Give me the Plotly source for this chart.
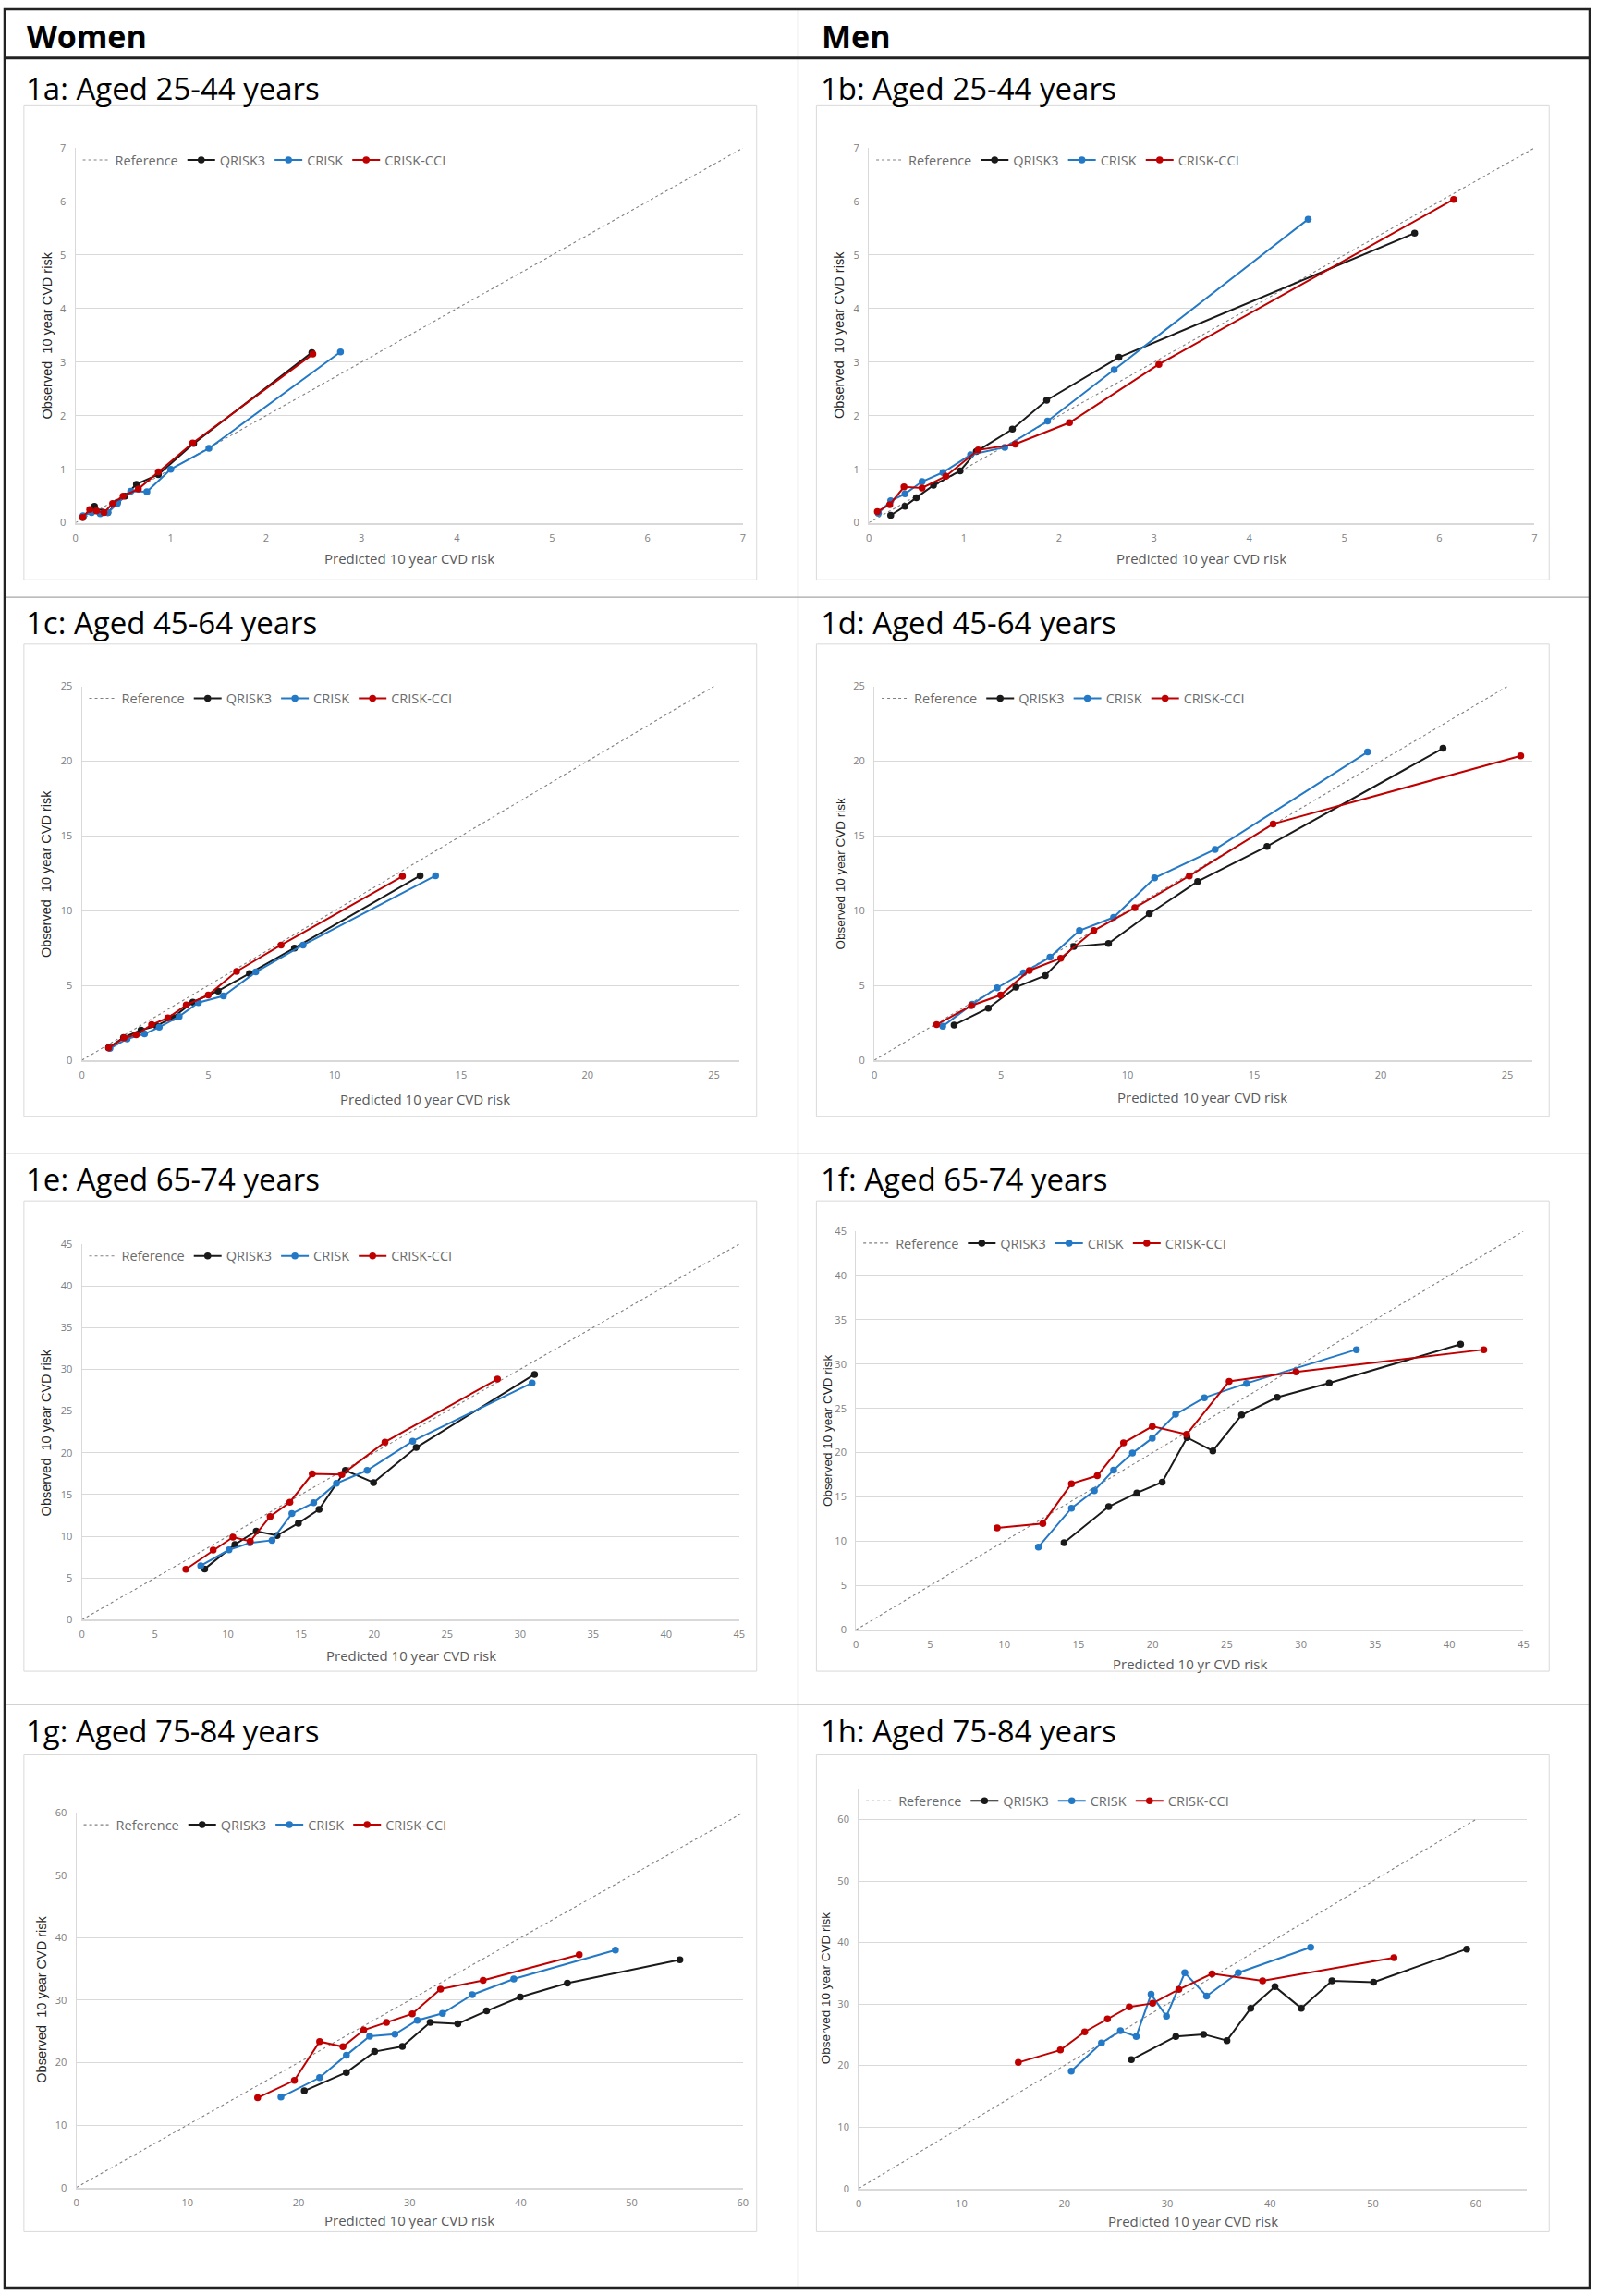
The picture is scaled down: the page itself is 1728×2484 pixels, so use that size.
import plotly.graph_objects as go

W, H = 1728, 2484

# ------------------------------------------------------------------ data
# Predicted vs observed 10-year CVD risk (%), by decile
# 1a: Women aged 25-44
a_q_pred = [0.08, 0.20, 0.28, 0.34, 0.44, 0.52, 0.64, 0.87, 1.24, 2.48]
a_q_obs = [0.10, 0.31, 0.20, 0.19, 0.38, 0.50, 0.72, 0.90, 1.48, 3.18]
a_c_pred = [0.08, 0.17, 0.26, 0.34, 0.44, 0.58, 0.75, 1.00, 1.40, 2.78]
a_c_obs = [0.13, 0.19, 0.17, 0.19, 0.36, 0.59, 0.58, 1.00, 1.39, 3.19]
a_cc_pred = [0.075, 0.15, 0.22, 0.30, 0.39, 0.50, 0.66, 0.87, 1.23, 2.49]
a_cc_obs = [0.10, 0.25, 0.22, 0.19, 0.36, 0.50, 0.63, 0.95, 1.49, 3.15]

# 1b: Men aged 25-44
b_q_pred = [0.23, 0.38, 0.50, 0.68, 0.96, 1.13, 1.51, 1.87, 2.63, 5.74]
b_q_obs = [0.14, 0.31, 0.47, 0.70, 0.97, 1.33, 1.75, 2.29, 3.09, 5.41]
b_c_pred = [0.10, 0.23, 0.38, 0.56, 0.78, 1.07, 1.43, 1.88, 2.58, 4.62]
b_c_obs = [0.18, 0.41, 0.54, 0.77, 0.94, 1.27, 1.41, 1.90, 2.86, 5.67]
b_cc_pred = [0.09, 0.22, 0.37, 0.56, 0.81, 1.15, 1.54, 2.11, 3.05, 6.15]
b_cc_obs = [0.21, 0.34, 0.67, 0.65, 0.87, 1.36, 1.47, 1.87, 2.96, 6.04]

# 1c: Women aged 45-64
c_q_pred = [1.06, 1.65, 2.34, 2.95, 3.61, 4.39, 5.39, 6.63, 8.41, 13.38]
c_q_obs = [0.84, 1.52, 2.01, 2.30, 2.87, 3.89, 4.63, 5.80, 7.50, 12.34]
c_c_pred = [1.11, 1.79, 2.48, 3.06, 3.85, 4.61, 5.60, 6.88, 8.75, 13.99]
c_c_obs = [0.79, 1.43, 1.76, 2.21, 2.93, 3.85, 4.30, 5.90, 7.70, 12.34]
c_cc_pred = [1.06, 1.67, 2.15, 2.76, 3.40, 4.13, 5.00, 6.12, 7.88, 12.68]
c_cc_obs = [0.82, 1.50, 1.70, 2.38, 2.83, 3.69, 4.36, 5.94, 7.70, 12.30]

# 1d: Men aged 45-64
d_q_pred = [3.15, 4.50, 5.59, 6.75, 7.88, 9.25, 10.86, 12.77, 15.51, 22.46]
d_q_obs = [2.36, 3.48, 4.88, 5.66, 7.60, 7.81, 9.80, 11.95, 14.30, 20.86]
d_c_pred = [2.70, 3.87, 4.85, 5.89, 6.94, 8.10, 9.45, 11.07, 13.46, 19.48]
d_c_obs = [2.27, 3.75, 4.84, 5.84, 6.89, 8.67, 9.55, 12.19, 14.10, 20.61]
d_cc_pred = [2.46, 3.83, 4.99, 6.12, 7.36, 8.67, 10.29, 12.44, 15.75, 25.53]
d_cc_obs = [2.38, 3.65, 4.36, 6.00, 6.82, 8.67, 10.20, 12.32, 15.80, 20.35]

# 1e: Women aged 65-74
e_q_pred = [8.41, 10.48, 11.94, 13.36, 14.82, 16.24, 18.04, 19.97, 22.89, 30.99]
e_q_obs = [6.09, 9.02, 10.62, 10.09, 11.57, 13.21, 17.89, 16.44, 20.63, 29.39]
e_c_pred = [8.14, 10.07, 11.50, 13.02, 14.38, 15.87, 17.43, 19.53, 22.65, 30.82]
e_c_obs = [6.47, 8.37, 9.20, 9.52, 12.71, 14.01, 16.33, 17.89, 21.39, 28.36]
e_cc_pred = [7.12, 8.99, 10.34, 11.53, 12.89, 14.24, 15.77, 17.80, 20.75, 28.45]
e_cc_obs = [6.05, 8.34, 9.90, 9.40, 12.37, 14.08, 17.47, 17.40, 21.28, 28.82]

# 1f: Men aged 65-74
f_q_pred = [14.03, 17.04, 18.94, 20.65, 22.32, 24.06, 26.00, 28.40, 31.91, 40.76]
f_q_obs = [9.85, 13.91, 15.46, 16.68, 21.71, 20.20, 24.26, 26.24, 27.86, 32.24]
f_c_pred = [12.30, 14.53, 16.07, 17.37, 18.64, 19.98, 21.55, 23.49, 26.33, 33.74]
f_c_obs = [9.35, 13.73, 15.71, 18.04, 19.95, 21.64, 24.33, 26.20, 27.82, 31.63]
f_cc_pred = [9.52, 12.60, 14.53, 16.27, 18.04, 19.98, 22.29, 25.16, 29.67, 42.33]
f_cc_obs = [11.50, 12.01, 16.50, 17.40, 21.10, 22.97, 22.07, 28.04, 29.12, 31.63]

# 1g: Women aged 75-84
g_q_pred = [20.52, 24.31, 26.85, 29.35, 31.85, 34.34, 36.93, 39.96, 44.20, 54.33]
g_q_obs = [15.47, 18.42, 21.76, 22.59, 26.43, 26.21, 28.27, 30.50, 32.72, 36.45]
g_c_pred = [18.42, 21.90, 24.31, 26.40, 28.68, 30.69, 32.96, 35.64, 39.38, 48.53]
g_c_obs = [14.47, 17.59, 21.20, 24.21, 24.54, 26.77, 27.88, 30.88, 33.39, 38.01]
g_cc_pred = [16.32, 19.63, 21.90, 24.00, 25.87, 27.92, 30.24, 32.78, 36.62, 45.27]
g_cc_obs = [14.36, 17.14, 23.37, 22.54, 25.21, 26.43, 27.82, 31.77, 33.17, 37.28]

# 1h: Men aged 75-84
h_q_pred = [26.51, 30.84, 33.54, 35.81, 38.12, 40.48, 43.04, 46.02, 50.07, 59.13]
h_q_obs = [20.94, 24.73, 25.07, 24.05, 29.32, 32.82, 29.32, 33.79, 33.56, 38.94]
h_c_pred = [20.67, 23.61, 25.45, 26.99, 28.43, 29.93, 31.71, 33.83, 36.92, 43.95]
h_c_obs = [19.07, 23.66, 25.64, 24.73, 31.58, 28.01, 35.09, 31.30, 35.09, 39.22]
h_cc_pred = [15.52, 19.61, 21.98, 24.19, 26.31, 28.58, 31.13, 34.36, 39.28, 52.05]
h_cc_obs = [20.49, 22.52, 25.47, 27.56, 29.54, 30.11, 32.37, 34.92, 33.79, 37.52]

panel_titles = ["1a: Aged 25-44 years", "1b: Aged 25-44 years",
                "1c: Aged 45-64 years", "1d: Aged 45-64 years",
                "1e: Aged 65-74 years", "1f: Aged 65-74 years",
                "1g: Aged 75-84 years", "1h: Aged 75-84 years"]
column_headers = ["Women", "Men"]
series_names = ["Reference", "QRISK3", "CRISK", "CRISK-CCI"]
x_titles = ["Predicted 10 year CVD risk"] * 5 + ["Predicted 10 yr CVD risk"] + ["Predicted 10 year CVD risk"] * 2
y_titles = ["Observed\u00a0 10 year CVD risk", "Observed\u00a0 10 year CVD risk",
            "Observed\u00a0 10 year CVD risk", "Observed 10 year CVD risk",
            "Observed\u00a0 10 year CVD risk", "Observed 10 year CVD risk",
            "Observed\u00a0 10 year CVD risk", "Observed 10 year CVD risk"]
x_max = [7, 7, 26, 26, 45, 45, 60, 65]
y_max = [7, 7, 25, 25, 45, 45, 60, 65]
reference_max = [7, 7, 25, 25, 45, 45, 60, 60]
tick_step = [1, 1, 5, 5, 5, 5, 10, 10]

series_data = [
    [(a_q_pred, a_q_obs), (a_c_pred, a_c_obs), (a_cc_pred, a_cc_obs)],
    [(b_q_pred, b_q_obs), (b_c_pred, b_c_obs), (b_cc_pred, b_cc_obs)],
    [(c_q_pred, c_q_obs), (c_c_pred, c_c_obs), (c_cc_pred, c_cc_obs)],
    [(d_q_pred, d_q_obs), (d_c_pred, d_c_obs), (d_cc_pred, d_cc_obs)],
    [(e_q_pred, e_q_obs), (e_c_pred, e_c_obs), (e_cc_pred, e_cc_obs)],
    [(f_q_pred, f_q_obs), (f_c_pred, f_c_obs), (f_cc_pred, f_cc_obs)],
    [(g_q_pred, g_q_obs), (g_c_pred, g_c_obs), (g_cc_pred, g_cc_obs)],
    [(h_q_pred, h_q_obs), (h_c_pred, h_c_obs), (h_cc_pred, h_cc_obs)],
]

# ------------------------------------------------------------------ layout (pixels)
plot_px = [(79, 805, 153, 561), (942, 1666, 153, 561),
           (86, 801, 739, 1146), (948, 1664, 739, 1146),
           (86, 801, 1346, 1755), (928, 1654, 1332, 1766),
           (80, 805, 1965, 2373), (931, 1658, 1939, 2374)]
ytitle_px = [(48, 357), (910, 357), (48, 943), (911, 943),
             (47, 1551), (897, 1549), (42, 2168), (896, 2156)]
xtitle_px = [(442, 600), (1304, 600), (459, 1188), (1305, 1186),
             (444, 1794), (1291, 1803), (442, 2409), (1295, 2410)]
ytitle_size = [14.5, 14.5, 14.5, 13.5, 14.5, 13.5, 14.5, 13.5]
row_box_y = [(107, 623), (693, 1207), (1299, 1811), (1902, 2421)]
col_box_x = [(23, 820), (885, 1682)]
title_y = [88, 670, 1275, 1876]
title_x = [23, 888]
row_lines = [642, 1248, 1847]

colors = ["#1a1a1a", "#2379c6", "#c00000"]
FONT = "Open Sans, Lato, sans-serif"


def px(x):
    return x / W


def py(y):
    return 1 - y / H


fig = go.Figure()
layout = dict(width=W, height=H, margin=dict(l=0, r=0, t=0, b=0),
              paper_bgcolor="white", plot_bgcolor="white",
              font=dict(family=FONT), showlegend=True,
              annotations=[], shapes=[])

for i in range(8):
    n = i + 1
    sx = "" if n == 1 else str(n)
    xref, yref = "x" + sx, "y" + sx
    lg = "legend" + sx
    x0, x1, y0, y1 = plot_px[i]

    fig.add_trace(go.Scatter(x=[0, reference_max[i]], y=[0, reference_max[i]],
                             mode="lines", name=series_names[0],
                             line=dict(color="#808080", width=1.1, dash="dot"),
                             xaxis=xref, yaxis=yref, legend=lg, hoverinfo="skip"))
    for k, (xs, ys) in enumerate(series_data[i]):
        fig.add_trace(go.Scatter(x=xs, y=ys, mode="lines+markers",
                                 name=series_names[k + 1],
                                 line=dict(color=colors[k], width=2),
                                 marker=dict(color=colors[k], size=7.5),
                                 xaxis=xref, yaxis=yref, legend=lg))

    tickfont = dict(family=FONT, size=11, color="#808080")
    layout["xaxis" + sx] = dict(domain=[px(x0), px(x1)], anchor=yref,
                                range=[0, x_max[i]], dtick=tick_step[i], tick0=0,
                                showgrid=False, zeroline=False, showline=True,
                                linecolor="#d9d9d9", linewidth=1.5, ticks="",
                                tickfont=tickfont, fixedrange=True,
                                ticklabelstandoff=5)
    layout["yaxis" + sx] = dict(domain=[py(y1), py(y0)], anchor=xref,
                                range=[0, y_max[i]], dtick=tick_step[i], tick0=0,
                                showgrid=True, gridcolor="#d9d9d9", gridwidth=1,
                                zeroline=False, showline=True, linecolor="#d9d9d9",
                                linewidth=1, ticks="", tickfont=tickfont,
                                fixedrange=True, ticklabelstandoff=7)
    layout[lg] = dict(orientation="h", x=px(x0 + 3), y=py(y0 - 3),
                      xanchor="left", yanchor="top", bgcolor="rgba(0,0,0,0)",
                      font=dict(family=FONT, size=14.5, color="#6b6b6b"),
                      itemwidth=30, tracegroupgap=0, itemclick=False,
                      itemdoubleclick=False)

    # axis titles
    ax_, ay_ = xtitle_px[i]
    layout["annotations"].append(dict(
        x=px(ax_), y=py(ay_), xref="paper", yref="paper", text=x_titles[i],
        showarrow=False, xanchor="center", yanchor="middle",
        font=dict(family=FONT, size=15, color="#595959")))
    tx, ty = ytitle_px[i]
    layout["annotations"].append(dict(
        x=px(tx), y=py(ty), xref="paper", yref="paper", text=y_titles[i],
        showarrow=False, xanchor="center", yanchor="middle", textangle=-90,
        font=dict(family="Liberation Sans, Arial, sans-serif",
                  size=ytitle_size[i], color="#262626")))

    # panel title and chart frame
    row, col = i // 2, i % 2
    layout["annotations"].append(dict(
        x=px(title_x[col]), y=py(title_y[row]), xref="paper", yref="paper",
        text=panel_titles[i], showarrow=False, xanchor="left", yanchor="middle",
        font=dict(family=FONT, size=33, color="#000000")))
    bx0, bx1 = col_box_x[col]
    by0, by1 = row_box_y[row]
    layout["shapes"].append(dict(type="rect", xref="paper", yref="paper",
                                 x0=px(bx0), x1=px(bx1), y0=py(by1), y1=py(by0),
                                 line=dict(color="#d9d9d9", width=1), layer="below"))

# column headers
for col in range(2):
    layout["annotations"].append(dict(
        x=px(title_x[col] + 1), y=py(31), xref="paper", yref="paper",
        text="<b>" + column_headers[col] + "</b>", showarrow=False,
        xanchor="left", yanchor="middle",
        font=dict(family=FONT, size=34, color="#000000")))

# table lines
for yl in row_lines:
    layout["shapes"].append(dict(type="line", xref="paper", yref="paper",
                                 x0=px(2), x1=px(1726), y0=py(yl), y1=py(yl),
                                 line=dict(color="#a6a6a6", width=1.2)))
layout["shapes"].append(dict(type="line", xref="paper", yref="paper",
                             x0=px(865), x1=px(865), y0=py(2), y1=py(2482),
                             line=dict(color="#a6a6a6", width=1.2)))
layout["shapes"].append(dict(type="line", xref="paper", yref="paper",
                             x0=px(2), x1=px(1726), y0=py(55), y1=py(55),
                             line=dict(color="#222222", width=3)))
layout["shapes"].append(dict(type="rect", xref="paper", yref="paper",
                             x0=px(2), x1=px(1726), y0=py(2482), y1=py(2),
                             line=dict(color="#222222", width=2.5)))

fig.update_layout(**layout)
fig.write_html("out.html", config={"displayModeBar": False},
               post_script="document.body.style.margin='0';document.body.style.overflow='hidden';")
